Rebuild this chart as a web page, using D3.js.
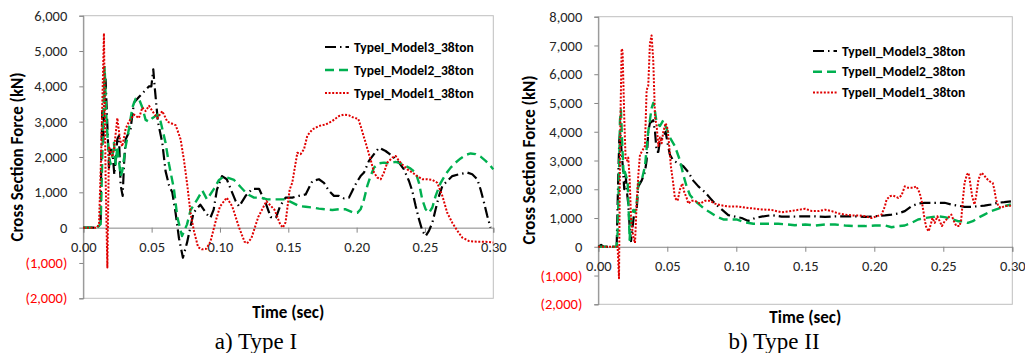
<!DOCTYPE html>
<html>
<head>
<meta charset="utf-8">
<script src="https://cdn.jsdelivr.net/npm/d3@7"></script>
<style>
  body { margin: 0; background: #fff; }
  svg text { font-family: Calibri, Carlito, Lato, sans-serif; }
</style>
</head>
<body>
<div id="chart"></div>
<script>
// ---- data: [time (sec), cross section force (kN)] ----
var typeI_model3 = [[0,0],[0.010,0],[0.0115,50],[0.0127,150],[0.0132,2000],[0.0139,3300],[0.0146,2400],[0.0156,4000],[0.0163,4200],[0.0188,1700],[0.0195,2200],[0.0212,2200],[0.0227,1500],[0.0249,2500],[0.0261,2600],[0.0273,1200],[0.0288,900],[0.0298,1800],[0.031,2500],[0.0322,2600],[0.0346,2800],[0.0371,3540],[0.0407,3700],[0.0432,3800],[0.0456,3900],[0.0481,4000],[0.0498,4000],[0.0512,4480],[0.0522,4000],[0.0546,3000],[0.0578,2400],[0.0602,1600],[0.0627,1200],[0.0651,1000],[0.0676,400],[0.07,-300],[0.0729,-850],[0.0759,-425],[0.0807,425],[0.0856,650],[0.0905,375],[0.093,280],[0.0954,510],[0.0978,1080],[0.1015,1460],[0.105,1370],[0.108,1080],[0.1115,750],[0.114,600],[0.1188,900],[0.1237,1100],[0.1286,1100],[0.1334,700],[0.1371,300],[0.141,280],[0.144,610],[0.148,850],[0.1529,850],[0.1578,900],[0.1627,940],[0.1676,1320],[0.1724,1370],[0.1761,1270],[0.1798,1040],[0.1834,900],[0.1871,900],[0.1907,830],[0.1944,850],[0.1968,1040],[0.1998,1270],[0.2029,1460],[0.2054,1560],[0.209,1890],[0.2127,2080],[0.2163,2260],[0.2212,2170],[0.2261,2030],[0.231,1840],[0.2346,1650],[0.2383,1320],[0.2407,1040],[0.2432,610],[0.2456,240],[0.2481,-90],[0.2505,-240],[0.2529,-90],[0.2554,140],[0.2578,520],[0.2603,900],[0.2627,1180],[0.2663,1320],[0.27,1460],[0.2749,1510],[0.281,1560],[0.2846,1510],[0.2883,1370],[0.2907,1080],[0.2932,710],[0.2956,330],[0.298,0]];

var typeI_model2 = [[0,0],[0.010,0],[0.0127,100],[0.0139,2000],[0.0156,4550],[0.017,3000],[0.0188,2000],[0.02,1800],[0.0212,2000],[0.0224,2400],[0.0237,1800],[0.0249,2300],[0.0273,1460],[0.0285,1600],[0.031,2300],[0.0334,2800],[0.0359,3400],[0.0383,3650],[0.0407,3650],[0.0432,3400],[0.0456,3050],[0.048,3000],[0.0505,3100],[0.0542,3200],[0.0566,3000],[0.0602,2400],[0.0627,1800],[0.0663,1100],[0.0688,300],[0.0722,-237],[0.0759,93],[0.0785,500],[0.0834,800],[0.0871,1050],[0.0905,800],[0.0956,1100],[0.0993,1350],[0.103,1450],[0.1066,1400],[0.1103,1350],[0.1151,1150],[0.12,950],[0.1249,850],[0.1298,850],[0.1346,800],[0.1395,800],[0.1444,800],[0.148,800],[0.1529,710],[0.1578,610],[0.1627,590],[0.1676,570],[0.1724,540],[0.1773,520],[0.1822,500],[0.1871,520],[0.192,520],[0.1968,440],[0.2005,420],[0.2029,520],[0.2054,800],[0.2078,1180],[0.2102,1460],[0.2127,1700],[0.2163,1820],[0.22,1840],[0.2236,1820],[0.2285,1860],[0.2322,1820],[0.2358,1750],[0.2395,1670],[0.2432,1560],[0.2456,1270],[0.248,800],[0.2505,520],[0.2529,420],[0.2554,570],[0.2578,900],[0.2615,1270],[0.2651,1510],[0.2688,1700],[0.2724,1840],[0.2761,1960],[0.2798,2060],[0.2834,2100],[0.2871,2080],[0.2907,2010],[0.2944,1890],[0.298,1750],[0.30,1650]];

var typeI_model1 = [[0,0],[0.010,0],[0.0115,100],[0.013,2000],[0.0151,5500],[0.0163,1500],[0.0176,-1130],[0.0188,2300],[0.0212,2000],[0.0224,2200],[0.0249,3100],[0.0268,2500],[0.0285,2300],[0.031,2800],[0.0334,3000],[0.0371,3200],[0.0407,3100],[0.0432,3400],[0.0456,3300],[0.0481,3450],[0.0505,3300],[0.0542,3100],[0.0578,3300],[0.0615,3000],[0.0676,2900],[0.0712,2500],[0.0737,1900],[0.0761,1200],[0.0785,400],[0.081,-100],[0.084,-550],[0.0868,-614],[0.090,-600],[0.093,-400],[0.097,200],[0.1,600],[0.105,850],[0.109,600],[0.114,0],[0.118,-400],[0.1198,-445],[0.123,-300],[0.128,300],[0.134,750],[0.14,500],[0.144,100],[0.146,0],[0.148,150],[0.151,1080],[0.1529,1270],[0.1566,2120],[0.159,2080],[0.1615,2220],[0.1639,2600],[0.1676,2780],[0.1724,2880],[0.1773,2920],[0.1822,3020],[0.1871,3160],[0.1907,3200],[0.1944,3180],[0.198,3110],[0.2012,3080],[0.2029,2880],[0.2066,2400],[0.2102,1930],[0.2127,1560],[0.2151,1420],[0.2176,1370],[0.22,1560],[0.2224,1840],[0.2261,1980],[0.2285,2030],[0.231,1890],[0.2334,1790],[0.2371,1650],[0.2407,1560],[0.2444,1460],[0.248,1370],[0.2517,1370],[0.2554,1350],[0.259,1270],[0.2627,900],[0.2663,420],[0.27,140],[0.2737,-90],[0.2773,-280],[0.2822,-380],[0.2883,-400],[0.2944,-400],[0.30,-420]];

var typeII_model3 = [[0,0],[0.002,70],[0.004,0],[0.0133,0],[0.0145,2500],[0.0152,3700],[0.0159,4000],[0.0169,3300],[0.0179,2700],[0.0188,2000],[0.0198,2500],[0.021,1800],[0.0217,1500],[0.0227,700],[0.0237,200],[0.0246,600],[0.0261,1200],[0.0278,1300],[0.029,2100],[0.0314,2300],[0.0338,2600],[0.035,3000],[0.0362,4000],[0.0374,4300],[0.0398,4400],[0.0411,4000],[0.0423,3300],[0.0435,3300],[0.0447,3700],[0.0471,3800],[0.0488,4000],[0.0502,3600],[0.0519,3200],[0.0543,3000],[0.058,2900],[0.0616,2800],[0.0652,2600],[0.0688,2300],[0.0725,2100],[0.0773,1900],[0.0809,1700],[0.0845,1500],[0.0894,1300],[0.0942,1100],[0.099,1050],[0.1039,1000],[0.1087,900],[0.1135,1000],[0.1183,1050],[0.1256,1100],[0.1328,1050],[0.1401,1050],[0.15,1060],[0.1572,1060],[0.1644,1040],[0.1716,1060],[0.1788,1060],[0.186,1060],[0.1933,1040],[0.2005,1060],[0.2077,1090],[0.2125,1120],[0.2173,1160],[0.2221,1240],[0.2269,1410],[0.2317,1500],[0.2365,1530],[0.2413,1530],[0.2462,1530],[0.251,1530],[0.2558,1470],[0.2606,1430],[0.2654,1390],[0.2702,1390],[0.275,1410],[0.2798,1430],[0.2846,1470],[0.2894,1530],[0.2942,1550],[0.299,1580]];

var typeII_model2 = [[0,0],[0.0133,0],[0.014,500],[0.015,2500],[0.0157,4400],[0.0164,4750],[0.0174,3500],[0.0184,2440],[0.0193,2600],[0.0205,2400],[0.0213,2200],[0.0222,1000],[0.0227,240],[0.0232,700],[0.0242,1100],[0.0254,1280],[0.0266,1200],[0.0278,1500],[0.029,2200],[0.0314,2300],[0.0338,2800],[0.0362,4000],[0.0386,4810],[0.0398,5000],[0.0411,4700],[0.0423,4300],[0.0447,4200],[0.0471,4400],[0.0495,4100],[0.0519,3800],[0.0555,3500],[0.0592,3000],[0.0616,2500],[0.064,2100],[0.0664,1800],[0.07,1600],[0.0737,1450],[0.0773,1300],[0.0809,1200],[0.0857,1050],[0.0906,950],[0.0954,950],[0.1002,950],[0.1063,850],[0.1123,800],[0.1183,800],[0.1244,800],[0.1304,800],[0.1364,780],[0.1425,750],[0.15,775],[0.1572,740],[0.1644,775],[0.1716,775],[0.1788,740],[0.186,720],[0.1933,720],[0.2005,740],[0.2077,740],[0.2125,680],[0.2173,720],[0.2221,740],[0.2269,830],[0.2317,950],[0.2365,1000],[0.2413,1030],[0.2462,1060],[0.251,1030],[0.2558,970],[0.2606,890],[0.2642,890],[0.2678,830],[0.2714,890],[0.275,1000],[0.2798,1120],[0.2846,1240],[0.2894,1320],[0.2942,1410],[0.299,1470]];

var typeII_model1 = [[0,0],[0.0133,0],[0.014,0],[0.015,-1090],[0.0159,4000],[0.0169,6890],[0.0176,6800],[0.0188,4500],[0.0198,3020],[0.021,3000],[0.0217,3100],[0.0227,2400],[0.0237,1000],[0.0246,600],[0.0256,300],[0.0266,130],[0.0278,1500],[0.029,2500],[0.0302,3200],[0.0326,3400],[0.0338,3500],[0.035,5440],[0.0362,5600],[0.0374,7060],[0.0386,7350],[0.0398,6500],[0.0411,4500],[0.0423,4200],[0.0435,3500],[0.0447,3800],[0.0459,3600],[0.0471,4000],[0.0488,4300],[0.0502,4100],[0.0512,3600],[0.0526,2800],[0.0543,2200],[0.0555,1700],[0.0575,1600],[0.0592,2000],[0.0609,2200],[0.0623,1900],[0.064,1700],[0.0652,1500],[0.0676,1600],[0.07,1600],[0.0737,1500],[0.0773,1600],[0.0809,1600],[0.0845,1500],[0.0881,1450],[0.0942,1400],[0.1014,1400],[0.1087,1350],[0.1183,1300],[0.1256,1280],[0.1328,1200],[0.1401,1250],[0.15,1320],[0.1548,1240],[0.1596,1240],[0.1644,1290],[0.1692,1240],[0.174,1160],[0.1788,1120],[0.1837,1090],[0.1885,1090],[0.1933,1060],[0.1981,1000],[0.2017,1060],[0.2053,1120],[0.2077,1410],[0.2089,1640],[0.2113,1760],[0.2137,1780],[0.2173,1700],[0.2197,1780],[0.2221,2100],[0.2245,2050],[0.2281,2050],[0.2305,2100],[0.2329,1870],[0.2346,1530],[0.2365,950],[0.2377,660],[0.2394,540],[0.2409,770],[0.2421,1000],[0.2438,830],[0.2457,1060],[0.2474,890],[0.249,720],[0.251,890],[0.2534,1000],[0.2558,1120],[0.2577,890],[0.2594,720],[0.2618,720],[0.263,950],[0.2642,1640],[0.2654,2220],[0.2671,2510],[0.2683,2570],[0.2695,2220],[0.2709,1760],[0.2726,1470],[0.2738,1760],[0.2755,2340],[0.2774,2570],[0.2793,2510],[0.281,2390],[0.2834,2280],[0.2858,2220],[0.287,1990],[0.2882,1640],[0.2899,1410],[0.2918,1350],[0.2942,1410],[0.299,1430]];

var timeTicks = [0, 0.05, 0.10, 0.15, 0.20, 0.25, 0.30];
var forceTicksI = [-2000, -1000, 0, 1000, 2000, 3000, 4000, 5000, 6000];
var forceTicksII = [-2000, -1000, 0, 1000, 2000, 3000, 4000, 5000, 6000, 7000, 8000];
var namesI = ["TypeI_Model3_38ton", "TypeI_Model2_38ton", "TypeI_Model1_38ton"];
var namesII = ["TypeII_Model3_38ton", "TypeII_Model2_38ton", "TypeII_Model1_38ton"];

// line styles: model3, model2, model1
var styles = [
  { color: "#000000", dash: "11,4,1.5,4", width: 2.2 },
  { color: "#00b050", dash: "9,5", width: 2.4 },
  { color: "#e00000", dash: "2,1.6", width: 2 }
];

var svg = d3.select("#chart").append("svg")
  .attr("width", 1025)
  .attr("height", 353);

svg.append("rect").attr("width", 1025).attr("height", 353).attr("fill", "#fff");

function drawChart(cfg) {
  var x = d3.scaleLinear().domain([0, 0.3]).range([cfg.left, cfg.right]);
  var y = d3.scaleLinear().domain([cfg.yTicks[0], cfg.yTicks[cfg.yTicks.length - 1]]).range([cfg.bottom, cfg.top]);
  var g = svg.append("g");

  // plot area frame
  g.append("rect")
    .attr("x", cfg.left).attr("y", cfg.top)
    .attr("width", cfg.right - cfg.left).attr("height", cfg.bottom - cfg.top)
    .attr("fill", "none").attr("stroke", "#bfbfbf").attr("stroke-width", 1);

  var fmt = d3.format(",");
  var yAxis = d3.axisLeft(y).tickValues(cfg.yTicks).tickSize(4).tickPadding(12)
    .tickFormat(function(d) { return d < 0 ? "(" + fmt(-d) + ")" : fmt(d); });
  var ya = g.append("g").attr("transform", "translate(" + cfg.left + ",0)").call(yAxis);
  ya.selectAll("path, line").attr("stroke", "#868686");
  ya.selectAll("text")
    .attr("font-size", 14.5)
    .attr("fill", function(d) { return d < 0 ? "#ff0000" : "#262626"; });

  var xAxis = d3.axisBottom(x).tickValues(timeTicks).tickSize(5).tickPadding(9)
    .tickFormat(d3.format(".2f"));
  var xa = g.append("g").attr("transform", "translate(0," + y(0) + ")").call(xAxis);
  xa.selectAll("path, line").attr("stroke", "#868686");
  xa.selectAll("text").attr("font-size", 14.5).attr("fill", "#262626");

  var line = d3.line().x(function(d) { return x(d[0]); }).y(function(d) { return y(d[1]); });
  cfg.series.forEach(function(s, i) {
    g.append("path").datum(s)
      .attr("fill", "none")
      .attr("stroke", styles[i].color)
      .attr("stroke-width", styles[i].width)
      .attr("stroke-dasharray", styles[i].dash)
      .attr("stroke-linejoin", "round")
      .attr("d", line);
  });

  // legend
  cfg.names.forEach(function(n, i) {
    var ly = cfg.legY + i * cfg.legStep;
    g.append("line")
      .attr("x1", cfg.legX).attr("x2", cfg.legX + 24)
      .attr("y1", ly).attr("y2", ly)
      .attr("stroke", styles[i].color)
      .attr("stroke-width", styles[i].width)
      .attr("stroke-dasharray", styles[i].dash);
    g.append("text")
      .attr("x", cfg.legX + 29).attr("y", ly + 4.5)
      .attr("font-size", 13.5).attr("font-weight", "bold").attr("fill", "#000")
      .text(n);
  });

  // axis titles
  g.append("text")
    .attr("transform", "translate(" + cfg.yTitleX + "," + cfg.yTitleY + ") rotate(-90)")
    .attr("text-anchor", "middle").attr("font-size", 17).attr("font-weight", "bold")
    .text("Cross Section Force (kN)");
  g.append("text")
    .attr("x", (cfg.left + cfg.right) / 2).attr("y", cfg.xTitleY)
    .attr("text-anchor", "middle").attr("font-size", 17).attr("font-weight", "bold")
    .text("Time (sec)");

  g.append("text")
    .attr("x", cfg.capX).attr("y", 349)
    .attr("text-anchor", "middle").attr("font-size", 23)
    .style("font-family", "'Liberation Serif', 'Times New Roman', serif")
    .text(cfg.caption);
}

drawChart({
  left: 83.3, right: 493.3, top: 15.7, bottom: 298.3,
  yTicks: forceTicksI,
  series: [typeI_model3, typeI_model2, typeI_model1],
  names: namesI, legX: 325, legY: 47, legStep: 23,
  yTitleX: 23, yTitleY: 157, xTitleY: 318,
  capX: 256, caption: "a) Type I"
});

drawChart({
  left: 598.3, right: 1012.3, top: 16.7, bottom: 304.3,
  yTicks: forceTicksII,
  series: [typeII_model3, typeII_model2, typeII_model1],
  names: namesII, legX: 813, legY: 51, legStep: 20.7,
  yTitleX: 535, yTitleY: 160, xTitleY: 323,
  capX: 774, caption: "b) Type II"
});
</script>
</body>
</html>
